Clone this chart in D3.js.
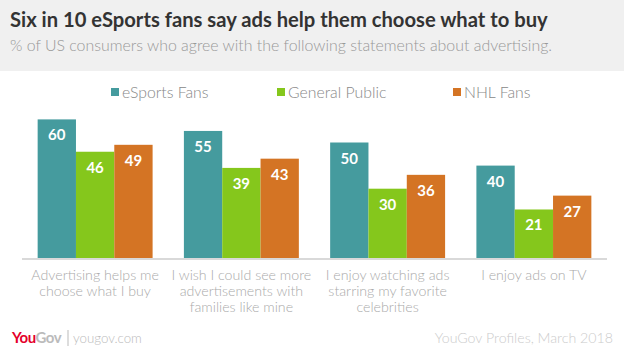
<!DOCTYPE html>
<html lang="en">
<head>
    <meta charset="UTF-8">
    <title>eSports ads</title>
    <style>
        body { margin: 0; background: #fff; }
        svg { display: block; font-family: Lato, "Open Sans", sans-serif; }
    </style>
    <script src="https://d3js.org/d3.v7.min.js"></script>
</head>
<body>
<script>
// data
const categories = [
    ["Advertising helps me", "choose what I buy"],
    ["I wish I could see more", "advertisements with", "families like mine"],
    ["I enjoy watching ads", "starring my favorite", "celebrities"],
    ["I enjoy ads on TV"]
];
const seriesNames = ["eSports Fans", "General Public", "NHL Fans"];
const esports = [60, 55, 50, 40];
const generalPublic = [46, 39, 30, 21];
const nhlFans = [49, 43, 36, 27];
const colors = ["#459b9e", "#85c71c", "#d47424"];

const W = 624, H = 352;
const svg = d3.select("body").append("svg").attr("width", W).attr("height", H);

// grey header band
svg.append("rect").attr("width", W).attr("height", 71).attr("fill", "#f0f0f0");
svg.append("text").attr("x", 10).attr("y", 27)
    .attr("font-size", 20.2).attr("font-weight", 700).attr("fill", "#333")
    .text("Six in 10 eSports fans say ads help them choose what to buy");
svg.append("text").attr("x", 10).attr("y", 51)
    .attr("font-size", 15.9).attr("font-weight", 300).attr("fill", "#999")
    .text("% of US consumers who agree with the following statements about advertising.");

// scales
const x0 = d3.scaleBand().domain(d3.range(categories.length)).range([22, 607])
    .paddingInner(0.214).paddingOuter(0.107);
const x1 = d3.scaleBand().domain(d3.range(seriesNames.length)).range([0, x0.bandwidth()]);
const y = d3.scaleLinear().domain([0, 100]).range([258, 27]);

const rows = categories.map((c, i) => [esports[i], generalPublic[i], nhlFans[i]]);

const groups = svg.selectAll(".grp").data(rows).enter().append("g")
    .attr("class", "grp")
    .attr("transform", (d, i) => "translate(" + x0(i) + ",0)");

groups.selectAll("rect").data(d => d).enter().append("rect")
    .attr("x", (d, j) => x1(j))
    .attr("width", x1.bandwidth())
    .attr("y", d => y(d))
    .attr("height", d => y(0) - y(d))
    .attr("fill", (d, j) => colors[j]);

groups.selectAll(".val").data(d => d).enter().append("text")
    .attr("class", "val")
    .attr("x", (d, j) => x1(j) + x1.bandwidth() / 2)
    .attr("y", d => y(d) + 21)
    .attr("text-anchor", "middle")
    .attr("font-size", 15).attr("font-weight", 700).attr("fill", "#fff")
    .text(d => d);

// baseline
svg.append("line").attr("x1", 22).attr("x2", 607)
    .attr("y1", 259).attr("y2", 259)
    .attr("stroke", "#d9d9d9").attr("stroke-width", 2);

// category labels
const cat = svg.selectAll(".cat").data(categories).enter().append("text")
    .attr("class", "cat")
    .attr("text-anchor", "middle")
    .attr("font-size", 14.2).attr("font-weight", 300).attr("fill", "#aaa");
cat.selectAll("tspan").data((d, i) => d.map(s => ({ s: s, i: i }))).enter().append("tspan")
    .attr("x", d => x0(d.i) + x0.bandwidth() / 2)
    .attr("y", (d, k) => 280 + k * 16)
    .text(d => d.s);

// legend
const legendX = [111, 277, 453];
const leg = svg.selectAll(".leg").data(seriesNames).enter().append("g")
    .attr("class", "leg")
    .attr("transform", (d, i) => "translate(" + legendX[i] + ",92)");
leg.append("rect").attr("y", -4).attr("width", 8).attr("height", 8)
    .attr("fill", (d, i) => colors[i]);
leg.append("text").attr("x", 11).attr("y", 5.5)
    .attr("font-size", 15.8).attr("font-weight", 300).attr("fill", "#888")
    .text(d => d);

// footer
const logo = svg.append("text").attr("x", 12).attr("y", 343)
    .attr("font-size", 15).attr("font-weight", 700).attr("letter-spacing", -0.5);
logo.append("tspan").attr("fill", "#e4002b").text("You");
logo.append("tspan").attr("fill", "#bbb").text("Gov");
svg.append("line").attr("x1", 68).attr("x2", 68).attr("y1", 330).attr("y2", 346)
    .attr("stroke", "#bbb").attr("stroke-width", 1);
svg.append("text").attr("x", 73).attr("y", 343)
    .attr("font-size", 13.3).attr("font-weight", 300).attr("fill", "#bbb")
    .text("yougov.com");
svg.append("text").attr("x", 613).attr("y", 343).attr("text-anchor", "end")
    .attr("font-size", 14.2).attr("font-weight", 300).attr("fill", "#ccc")
    .text("YouGov Profiles, March 2018");
</script>
</body>
</html>
